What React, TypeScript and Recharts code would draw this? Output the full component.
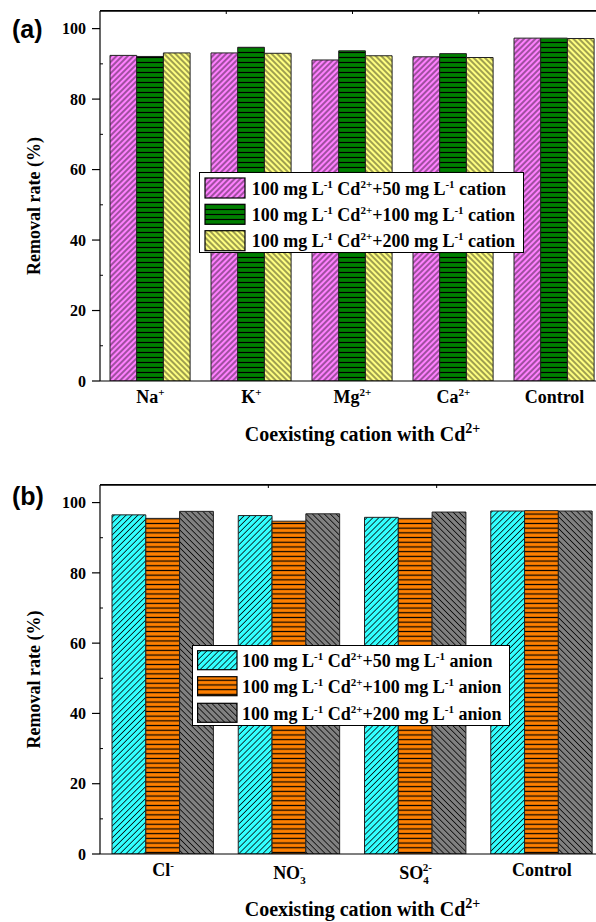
import React from "react";
import { BarChart, Bar, XAxis, YAxis, Legend, ReferenceLine } from "recharts";

// ---------- data ----------
const catsA = ["Na", "K", "Mg", "Ca", "Control"];
const catSubA = ["", "", "", "", ""];
const catSupA = ["+", "+", "2+", "2+", ""];
const cation50 = [92.4, 93.1, 91.1, 92.0, 97.3];
const cation100 = [92.1, 94.7, 93.7, 92.9, 97.3];
const cation200 = [93.1, 93.0, 92.3, 91.8, 97.2];

const catsB = ["Cl", "NO", "SO", "Control"];
const catSubB = ["", "3", "4", ""];
const catSupB = ["-", "-", "2-", ""];
const anion50 = [96.5, 96.3, 95.8, 97.6];
const anion100 = [95.5, 94.7, 95.5, 97.7];
const anion200 = [97.5, 96.8, 97.3, 97.6];

const doses = ["50", "100", "200"];
const yTicks = [0, 20, 40, 60, 80, 100];
const yMinorTicks = [10, 30, 50, 70, 90];
const yMax = 105;
const yDomain = [0, yMax];

const SERIF = "Liberation Serif";
const SANS = "Liberation Sans";

const rowsA = catsA.map((c, i) => ({ cat: c, v50: cation50[i], v100: cation100[i], v200: cation200[i] }));
const rowsB = catsB.map((c, i) => ({ cat: c, v50: anion50[i], v100: anion100[i], v200: anion200[i] }));

type HatchKind = "f" | "b" | "h";
interface SeriesStyle { color: string; kind: HatchKind; spacing: number; lw: number; }

const stylesA: SeriesStyle[] = [
  { color: "#FF80FF", kind: "f", spacing: 4.0, lw: 0.75 },
  { color: "#008000", kind: "h", spacing: 5.0, lw: 1.2 },
  { color: "#FFFF80", kind: "b", spacing: 4.0, lw: 0.75 },
];
const stylesB: SeriesStyle[] = [
  { color: "#33FFFF", kind: "f", spacing: 4.2, lw: 0.75 },
  { color: "#FF8000", kind: "h", spacing: 4.7, lw: 1.2 },
  { color: "#808080", kind: "b", spacing: 4.2, lw: 0.75 },
];

const EmptyTick = () => <g />;

function Hatch({ id, s }: { id: string; s: SeriesStyle }) {
  if (s.kind === "h") {
    return (
      <pattern id={id} patternUnits="userSpaceOnUse" width={8} height={s.spacing}>
        <rect x={0} y={0} width={8} height={s.spacing} fill={s.color} />
        <line x1={0} x2={8} y1={s.spacing / 2} y2={s.spacing / 2} stroke="#000" strokeWidth={s.lw} />
      </pattern>
    );
  }
  const rot = s.kind === "f" ? 45 : -45;
  return (
    <pattern id={id} patternUnits="userSpaceOnUse" width={s.spacing} height={s.spacing} patternTransform={`rotate(${rot})`}>
      <rect x={0} y={0} width={s.spacing} height={s.spacing} fill={s.color} />
      <line x1={s.spacing / 2} x2={s.spacing / 2} y1={0} y2={s.spacing} stroke="#000" strokeWidth={s.lw} />
    </pattern>
  );
}

function makeTick(cats: string[], subs: string[], sups: string[]) {
  return (props: any) => {
    const { x, y, payload } = props;
    const i = cats.indexOf(payload.value);
    const sub = i >= 0 ? subs[i] : "";
    const sup = i >= 0 ? sups[i] : "";
    const extra = sub && sup ? 3 : 0;
    return (
      <text x={x} y={y + 22 + extra} textAnchor="middle" style={{ fontFamily: SERIF, fontWeight: 700, fontSize: 18 }} fill="#000">
        {payload.value}
        {sub ? <tspan dy={5} style={{ fontSize: 11 }}>{sub}</tspan> : null}
        {sub && sup ? <tspan dx={-6} dy={-13} style={{ fontSize: 11 }}>{sup}</tspan> : null}
        {!sub && sup ? <tspan dy={-7} style={{ fontSize: 11 }}>{sup}</tspan> : null}
      </text>
    );
  };
}

function LegendBox({ styles, ion, w, h, sx, sw, sh, rowY, tx, prefix }: any) {
  return (
    <svg width={w} height={h} style={{ display: "block" }}>
      <defs>
        {styles.map((s: SeriesStyle, i: number) => (
          <Hatch key={i} id={`${prefix}-lg-${i}`} s={s} />
        ))}
      </defs>
      <rect x={0.5} y={0.5} width={w - 1} height={h - 1} fill="#fff" stroke="#000" strokeWidth={1} />
      {doses.map((d, i) => (
        <g key={i}>
          <rect x={sx} y={rowY[i]} width={sw} height={sh} fill={`url(#${prefix}-lg-${i})`} stroke="#000" strokeWidth={1.2} />
          <text x={tx} y={rowY[i] + sh / 2 + 6.7} style={{ fontFamily: SERIF, fontWeight: 700, fontSize: 18 }} fill="#000">
            100 mg L<tspan dy={-7} style={{ fontSize: 11 }}>-1</tspan>
            <tspan dy={7}> Cd</tspan>
            <tspan dy={-7} style={{ fontSize: 11 }}>2+</tspan>
            <tspan dy={7}>+{d} mg L</tspan>
            <tspan dy={-7} style={{ fontSize: 11 }}>-1</tspan>
            <tspan dy={7}> {ion}</tspan>
          </text>
        </g>
      ))}
    </svg>
  );
}

function Panel(props: any) {
  const {
    rows, styles, prefix, cats, subs, sups, height, top, xAxisHeight, titleDy, titleDx,
    legend, tag, tagY, marginTop,
  } = props;
  const width = 620;
  const marginRight = 15;
  const yAxisW = 100;
  const plotW = width - yAxisW - marginRight;
  const nHalf = cats.length * 2;
  const halfTicks = Array.from({ length: nHalf - 1 }, (_, i) => i + 1);
  return (
    <div style={{ position: "absolute", left: 0, top, width, height }}>
      <BarChart
        width={width}
        height={height}
        data={rows}
        margin={{ top: marginTop, right: marginRight, bottom: 0, left: 0 }}
        barGap={0}
        barSize={props.barSize}
      >
        <defs>
          {styles.map((s: SeriesStyle, i: number) => (
            <Hatch key={i} id={`${prefix}-bar-${i}`} s={s} />
          ))}
        </defs>
        <XAxis
          dataKey="cat"
          height={xAxisHeight}
          tickLine={false}
          tickSize={0}
          tickMargin={0}
          axisLine={{ stroke: "#000", strokeWidth: 1.2 }}
          tick={makeTick(cats, subs, sups)}
          interval={0}
          label={{
            content: (lp: any) => {
              const vb = lp.viewBox || {};
              const cx = vb.x + vb.width / 2 + titleDx;
              return (
                <text x={cx} y={vb.y + titleDy} textAnchor="middle" style={{ fontFamily: SERIF, fontWeight: 700, fontSize: 20 }} fill="#000">
                  Coexisting cation with Cd<tspan dy={-8} style={{ fontSize: 14 }}>2+</tspan>
                </text>
              );
            },
          }}
        />
        <XAxis
          xAxisId="topN"
          orientation="top"
          type="number"
          domain={[0, nHalf]}
          allowDataOverflow
          ticks={halfTicks}
          mirror
          height={1}
          tick={EmptyTick}
          tickSize={3}
          interval={0}
          tickLine={{ stroke: "#000" }}
          axisLine={false}
        />
        <YAxis
          width={yAxisW}
          domain={yDomain}
          ticks={yTicks}
          allowDataOverflow
          tickSize={8}
          tickMargin={6}
          axisLine={{ stroke: "#000", strokeWidth: 1.2 }}
          tickLine={{ stroke: "#000", strokeWidth: 1.2 }}
          tick={{ fontFamily: SERIF, fontWeight: 700, fontSize: 16, fill: "#000" }}
          label={{
            content: (lp: any) => {
              const vb = lp.viewBox || {};
              const cy = vb.y + vb.height / 2 + 10;
              const cx = 40;
              const fx = vb.x + vb.width;
              return (
                <g>
                  <line x1={fx} y1={vb.y} x2={fx + plotW} y2={vb.y} stroke="#000" strokeWidth={1.2} />
                  <text x={cx} y={cy} textAnchor="middle" transform={`rotate(-90, ${cx}, ${cy})`} style={{ fontFamily: SERIF, fontWeight: 700, fontSize: 18 }} fill="#000">
                    Removal rate (%)
                  </text>
                  <text x={12} y={tagY} style={{ fontFamily: SANS, fontWeight: 700, fontSize: 25 }} fill="#000">
                    {tag}
                  </text>
                </g>
              );
            },
          }}
        />
        <YAxis
          yAxisId="minor"
          mirror
          domain={yDomain}
          ticks={yMinorTicks}
          allowDataOverflow
          tick={EmptyTick}
          tickSize={3}
          axisLine={false}
          tickLine={{ stroke: "#000" }}
        />
        <ReferenceLine y={yMax} stroke="#000" strokeWidth={1.2} ifOverflow="visible" />
        {["v50", "v100", "v200"].map((k, i) => (
          <Bar
            key={k}
            dataKey={k}
            fill={`url(#${prefix}-bar-${i})`}
            stroke="#222"
            strokeWidth={1}
            isAnimationActive={false}
          />
        ))}
        <Legend
          layout="vertical"
          align="center"
          verticalAlign="middle"
          wrapperStyle={{ position: "absolute", left: legend.left, top: legend.top, width: legend.w, height: legend.h, margin: 0, padding: 0 }}
          content={() => (
            <LegendBox
              styles={styles}
              ion={legend.ion}
              w={legend.w}
              h={legend.h}
              sx={legend.sx}
              sw={legend.sw}
              sh={legend.sh}
              rowY={legend.rowY}
              tx={legend.tx}
              prefix={prefix}
            />
          )}
        />
      </BarChart>
      <div
        style={{
          position: "absolute",
          left: yAxisW,
          top: marginTop - 1,
          width: plotW,
          height: 0,
          borderTop: "1.5px solid #000",
          pointerEvents: "none",
        }}
      />
    </div>
  );
}

export default function App() {
  return (
    <div style={{ position: "absolute", left: 0, top: 0, width: 596, height: 922, overflow: "hidden", background: "#fff" }}>
      <Panel
        rows={rowsA}
        styles={stylesA}
        prefix="a"
        cats={catsA}
        subs={catSubA}
        sups={catSupA}
        top={0}
        height={460}
        marginTop={11}
        xAxisHeight={79}
        titleDy={60}
        titleDx={10}
        barSize={26.7}
        tag="(a)"
        tagY={38}
        legend={{ left: 199, top: 172, w: 325, h: 81, sx: 6, sw: 40, sh: 20, rowY: [6, 32.3, 58.7], tx: 52.7, ion: "cation" }}
      />
      <Panel
        rows={rowsB}
        styles={stylesB}
        prefix="b"
        cats={catsB}
        subs={catSubB}
        sups={catSupB}
        top={460}
        height={462}
        marginTop={25}
        xAxisHeight={68}
        titleDy={62}
        titleDx={10}
        barSize={33.8}
        tag="(b)"
        tagY={45}
        legend={{ left: 191.7, top: 185, w: 318, h: 81, sx: 5.6, sw: 39.4, sh: 19, rowY: [5.7, 31.7, 58.3], tx: 50, ion: "anion" }}
      />
    </div>
  );
}
